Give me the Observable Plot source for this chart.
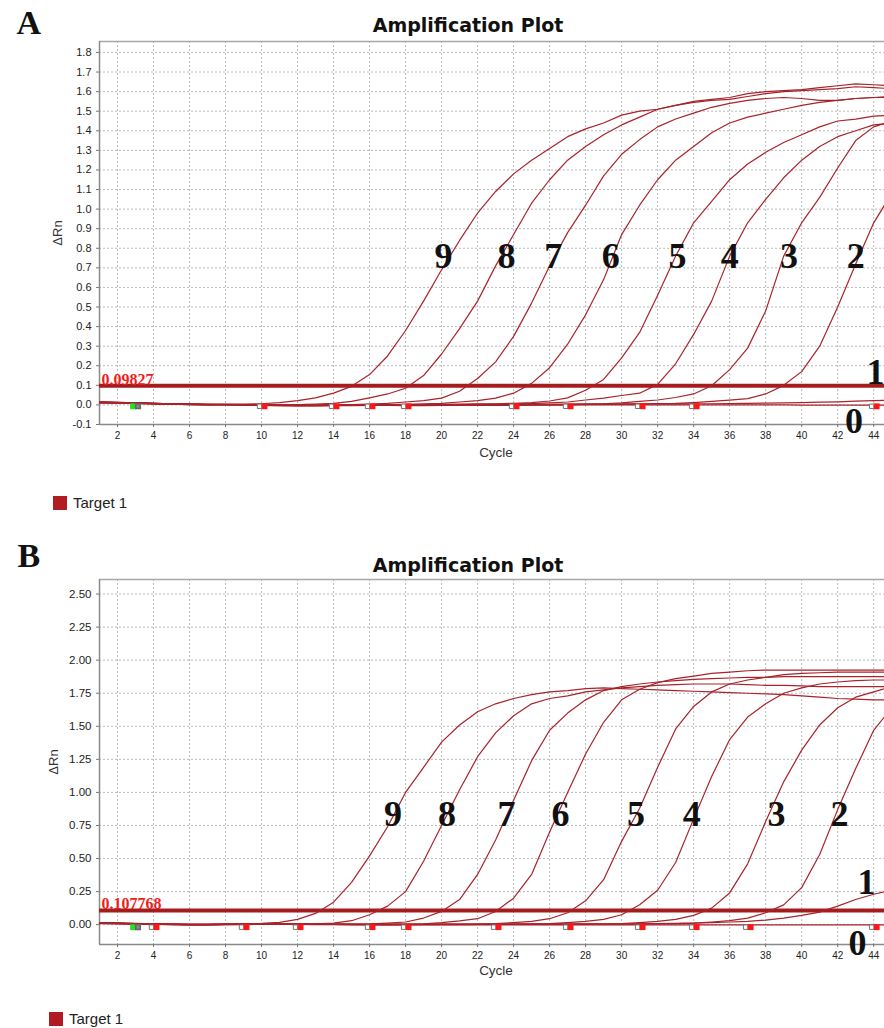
<!DOCTYPE html>
<html><head><meta charset="utf-8">
<script src="https://cdn.jsdelivr.net/npm/d3@7"></script>
<script src="https://cdn.jsdelivr.net/npm/@observablehq/plot@0.6"></script>
<style>
html,body{margin:0;padding:0;background:#fff;overflow:hidden}
#root{position:relative;width:884px;height:1028px;background:#fff}
.legend{position:absolute;display:flex;align-items:center;font-family:'Liberation Sans',Arial,sans-serif;font-size:15px;color:#222;line-height:14px}
.legend .sw{width:14px;height:14px;background:#b01c22;margin-right:6px}
</style></head><body>
<div id="root">
 <div id="panelA" style="position:absolute;left:0;top:0"></div>
 <div class="legend" id="legA" style="left:53px;top:496px"></div>
 <div id="panelB" style="position:absolute;left:0;top:514px"></div>
 <div class="legend" id="legB" style="left:49px;top:1012px"></div>
</div>
<script>
// ---------- shared ----------
const cycles = [1,2,3,4,5,6,7,8,9,10,11,12,13,14,15,16,17,18,19,20,21,22,23,24,25,26,27,28,29,30,31,32,33,34,35,36,37,38,39,40,41,42,43,44,45];
const xDomain = [1, 44.6];
const xTicks = [2,4,6,8,10,12,14,16,18,20,22,24,26,28,30,32,34,36,38,40,42,44];
const seriesNames = ["Target 1"];
const titleText = "Amplification Plot";
const xLabel = "Cycle";
const yLabel = "ΔRn";

// ---------- panel A ----------
const yDomainA = [-0.1, 1.856];
const yTicksA = [-0.1,0,0.1,0.2,0.3,0.4,0.5,0.6,0.7,0.8,0.9,1.0,1.1,1.2,1.3,1.4,1.5,1.6,1.7,1.8];
const thresholdA = 0.09827;
const thresholdTextA = "0.09827";
const a0 = [0.012,0.010,0.008,0.006,0.004, 0.002,0.000,0.001,0.000,-0.003, -0.004,-0.005,-0.005,-0.004,-0.004, -0.003,-0.003,-0.004,-0.004,-0.003, -0.003,-0.002,-0.002,-0.002,-0.001, -0.001,-0.001,0.000,0.000,0.000, 0.000,0.000,0.000,0.000,0.000, 0.000,0.000,0.000,0.000,-0.001, -0.001,-0.001,-0.001,-0.001,-0.001];
const a1 = [0.016,0.013,0.010,0.008,0.006, 0.004,0.003,0.003,0.001,-0.001, -0.002,-0.003,-0.003,-0.003,-0.003, -0.002,-0.002,-0.002,-0.002,-0.001, -0.001,0.000,0.000,0.001,0.001, 0.002,0.002,0.003,0.003,0.004, 0.004,0.005,0.005,0.006,0.006, 0.007,0.008,0.009,0.010,0.012, 0.014,0.016,0.019,0.022,0.025];
const a2 = [0.010,0.009,0.007,0.005,0.004, 0.002,0.001,0.001,0.000,-0.003, -0.004,-0.004,-0.004,-0.003,-0.003, -0.002,-0.002,-0.002,-0.001,-0.001, 0.000,0.000,0.001,0.001,0.002, 0.002,0.003,0.003,0.004,0.005, 0.006,0.007,0.008,0.012,0.018, 0.024,0.032,0.056,0.100,0.170, 0.300,0.500,0.720,0.930,1.080];
const a3 = [0.013,0.011,0.009,0.007,0.005, 0.003,0.002,0.002,0.001,-0.002, -0.003,-0.004,-0.004,-0.003,-0.003, -0.003,-0.002,-0.002,-0.002,-0.001, 0.000,0.000,0.001,0.002,0.002, 0.003,0.004,0.005,0.006,0.010, 0.018,0.025,0.038,0.056,0.098, 0.180,0.290,0.480,0.760,0.930, 1.060,1.210,1.350,1.420,1.450];
const a4 = [0.011,0.010,0.008,0.006,0.004, 0.003,0.002,0.001,0.000,-0.002, -0.003,-0.003,-0.003,-0.003,-0.002, -0.002,-0.001,-0.001,0.000,0.001, 0.002,0.003,0.004,0.005,0.007, 0.010,0.015,0.025,0.035,0.048, 0.060,0.105,0.210,0.360,0.530, 0.760,0.930,1.050,1.160,1.250, 1.320,1.370,1.400,1.430,1.440];
const a5 = [0.014,0.012,0.010,0.007,0.005, 0.003,0.002,0.002,0.001,-0.001, -0.002,-0.003,-0.003,-0.002,-0.002, -0.001,0.000,0.001,0.002,0.003, 0.004,0.005,0.006,0.008,0.012, 0.020,0.036,0.075,0.130,0.240, 0.370,0.560,0.760,0.930,1.040, 1.150,1.230,1.290,1.340,1.380, 1.420,1.450,1.460,1.475,1.480];
const a6 = [0.012,0.011,0.009,0.007,0.005, 0.003,0.002,0.002,0.001,-0.001, -0.002,-0.002,-0.002,-0.001,0.000, 0.001,0.002,0.003,0.005,0.008, 0.015,0.022,0.035,0.060,0.110, 0.190,0.310,0.460,0.640,0.870, 1.020,1.150,1.250,1.320,1.390, 1.440,1.470,1.490,1.510,1.530, 1.545,1.555,1.565,1.570,1.575];
const a7 = [0.015,0.013,0.011,0.008,0.006, 0.004,0.003,0.002,0.001,0.000, -0.001,-0.001,0.000,0.001,0.002, 0.004,0.008,0.015,0.022,0.035, 0.070,0.135,0.220,0.350,0.520, 0.710,0.880,1.020,1.170,1.280, 1.355,1.420,1.460,1.490,1.520, 1.540,1.555,1.565,1.570,1.565, 1.555,1.555,1.565,1.570,1.570];
const a8 = [0.013,0.012,0.010,0.008,0.006, 0.004,0.003,0.003,0.002,0.001, 0.001,0.002,0.004,0.008,0.018, 0.036,0.056,0.085,0.150,0.260, 0.390,0.530,0.710,0.870,1.030, 1.150,1.250,1.320,1.380,1.430, 1.470,1.510,1.530,1.545,1.555, 1.560,1.575,1.590,1.600,1.605, 1.610,1.615,1.625,1.620,1.615];
const a9 = [0.014,0.012,0.010,0.008,0.006, 0.004,0.003,0.003,0.004,0.006, 0.012,0.022,0.036,0.060,0.095, 0.155,0.250,0.380,0.530,0.690, 0.840,0.980,1.090,1.180,1.250, 1.310,1.370,1.410,1.440,1.480, 1.500,1.510,1.530,1.550,1.560, 1.570,1.590,1.600,1.605,1.610, 1.620,1.630,1.640,1.635,1.630];
const curvesA = [a0,a1,a2,a3,a4,a5,a6,a7,a8,a9];
const labelTextA  = ["9","8","7","6","5","4","3","2","1","0"];
const labelCycleA = [20.1,23.6,26.2,29.4,33.1,36.0,39.3,43.0,44.1,42.9];
const labelValueA = [0.757,0.757,0.757,0.757,0.757,0.757,0.757,0.757,0.164,-0.087];
const startMarkA = [3];
const endMarksA = [10,14,16,18,24,27,31,34,44];
const markerLevelA = -0.007;

// ---------- panel B ----------
const yDomainB = [-0.15, 2.61];
const yTicksB = [0,0.25,0.5,0.75,1.0,1.25,1.5,1.75,2.0,2.25,2.5];
const thresholdB = 0.107768;
const thresholdTextB = "0.107768";
const b0 = [0.008,0.006,0.004,0.002,0.000, -0.001,-0.001,0.000,0.001,0.002, 0.002,0.002,0.001,0.001,0.000, 0.000,-0.001,-0.001,-0.001,-0.002, -0.002,-0.002,-0.002,-0.002,-0.002, -0.002,-0.002,-0.002,-0.002,-0.002, -0.002,-0.002,-0.002,-0.002,-0.002, -0.002,-0.002,-0.002,-0.002,-0.002, -0.002,-0.002,-0.002,-0.002,-0.002];
const b1 = [0.012,0.010,0.007,0.004,0.002, 0.001,0.001,0.002,0.003,0.004, 0.004,0.004,0.003,0.003,0.002, 0.002,0.002,0.002,0.002,0.002, 0.002,0.002,0.003,0.003,0.003, 0.004,0.004,0.005,0.005,0.006, 0.007,0.008,0.010,0.012,0.015, 0.020,0.025,0.035,0.050,0.070, 0.095,0.140,0.190,0.230,0.260];
const b2 = [0.010,0.008,0.005,0.003,0.001, 0.000,0.000,0.001,0.002,0.003, 0.003,0.003,0.002,0.002,0.001, 0.001,0.001,0.001,0.001,0.001, 0.001,0.002,0.002,0.002,0.003, 0.003,0.004,0.004,0.005,0.005, 0.006,0.007,0.008,0.012,0.020, 0.030,0.050,0.090,0.150,0.280, 0.530,0.870,1.180,1.470,1.640];
const b3 = [0.013,0.010,0.007,0.004,0.002, 0.001,0.001,0.002,0.003,0.004, 0.004,0.003,0.003,0.002,0.002, 0.001,0.001,0.001,0.002,0.002, 0.002,0.003,0.003,0.004,0.004, 0.005,0.005,0.006,0.007,0.008, 0.015,0.025,0.040,0.070,0.125, 0.240,0.460,0.780,1.080,1.320, 1.510,1.640,1.720,1.760,1.800];
const b4 = [0.011,0.009,0.006,0.004,0.002, 0.001,0.001,0.002,0.003,0.003, 0.003,0.003,0.002,0.002,0.001, 0.001,0.001,0.002,0.002,0.002, 0.003,0.003,0.004,0.005,0.006, 0.008,0.015,0.025,0.040,0.075, 0.150,0.260,0.470,0.800,1.120, 1.400,1.570,1.670,1.750,1.790, 1.820,1.835,1.845,1.850,1.850];
const b5 = [0.014,0.011,0.008,0.005,0.003, 0.002,0.002,0.003,0.004,0.004, 0.004,0.003,0.003,0.002,0.002, 0.002,0.002,0.003,0.003,0.004, 0.004,0.005,0.008,0.015,0.025, 0.045,0.090,0.180,0.340,0.630, 0.880,1.190,1.480,1.650,1.760, 1.820,1.850,1.870,1.890,1.900, 1.905,1.910,1.910,1.910,1.910];
const b6 = [0.012,0.010,0.007,0.004,0.002, 0.001,0.001,0.002,0.003,0.004, 0.004,0.004,0.003,0.003,0.003, 0.003,0.004,0.005,0.006,0.015, 0.028,0.045,0.100,0.200,0.380, 0.700,1.000,1.290,1.530,1.700, 1.780,1.830,1.860,1.880,1.900, 1.910,1.920,1.925,1.925,1.925, 1.925,1.925,1.925,1.925,1.925];
const b7 = [0.015,0.012,0.009,0.006,0.004, 0.003,0.003,0.004,0.005,0.005, 0.005,0.005,0.004,0.004,0.004, 0.006,0.012,0.020,0.050,0.100, 0.190,0.380,0.640,0.940,1.240, 1.470,1.600,1.700,1.770,1.800, 1.820,1.835,1.845,1.855,1.860, 1.865,1.870,1.870,1.875,1.875, 1.875,1.875,1.875,1.875,1.875];
const b8 = [0.013,0.011,0.008,0.005,0.003, 0.002,0.002,0.003,0.004,0.004, 0.004,0.004,0.006,0.012,0.030, 0.075,0.140,0.250,0.480,0.750, 1.020,1.270,1.450,1.580,1.670, 1.710,1.730,1.760,1.775,1.790, 1.800,1.810,1.815,1.820,1.820, 1.820,1.815,1.810,1.810,1.805, 1.800,1.800,1.800,1.800,1.800];
const b9 = [0.012,0.010,0.008,0.006,0.004, 0.003,0.003,0.004,0.006,0.010, 0.018,0.040,0.085,0.170,0.320, 0.520,0.740,1.000,1.190,1.380, 1.510,1.610,1.670,1.710,1.740, 1.760,1.770,1.785,1.790,1.785, 1.780,1.775,1.770,1.765,1.760, 1.755,1.750,1.745,1.740,1.730, 1.720,1.710,1.705,1.700,1.700];
const curvesB = [b0,b1,b2,b3,b4,b5,b6,b7,b8,b9];
const labelTextB  = ["9","8","7","6","5","4","3","2","1","0"];
const labelCycleB = [17.3,20.3,23.6,26.6,30.8,33.9,38.6,42.1,43.6,43.1];
const labelValueB = [0.833,0.833,0.833,0.833,0.833,0.833,0.833,0.833,0.318,-0.144];
const startMarkB = [3];
const endMarksB = [4,9,12,16,18,23,27,31,34,37,44];
const markerLevelB = -0.019;

// ---------- drawing ----------
const sans = "'Liberation Sans', Arial, sans-serif";
const serif = "'Liberation Serif', 'Times New Roman', serif";
const curveColor = "#a8232b";

function tidy(curves) {
  return curves.flatMap((vals, w) => vals.map((v, j) => ({well: w, cycle: cycles[j], value: v})));
}

function panel(c) {
  const idx = c.labelText.map((_, i) => i);
  return Plot.plot({
    width: 884, height: c.height,
    marginTop: c.marginTop, marginBottom: c.marginBottom, marginLeft: 99, marginRight: 0,
    x: {domain: xDomain},
    y: {domain: c.yDomain},
    style: {fontFamily: sans, fontSize: "11px", color: "#222", background: "#fff", overflow: "visible"},
    marks: [
      Plot.gridX({ticks: xTicks, stroke: "#b9b9b9", strokeOpacity: 1, strokeDasharray: "2,2"}),
      Plot.gridY({ticks: c.yTicks, stroke: "#b9b9b9", strokeOpacity: 1, strokeDasharray: "2,2"}),
      Plot.ruleY([c.yDomain[1]], {stroke: "#a8a8a8", strokeWidth: 1.5}),
      Plot.ruleY([c.yDomain[0]], {stroke: "#8a8a8a", strokeWidth: 1.5}),
      Plot.ruleX([xDomain[0]], {stroke: "#8a8a8a", strokeWidth: 1.5}),
      Plot.axisX({ticks: xTicks, tickSize: 3, tickPadding: 4, fontSize: 10, label: null, stroke: "#777", tickFormat: d => String(d)}),
      Plot.axisY({ticks: c.yTicks, tickSize: 3, tickPadding: 5, fontSize: c.yFont, label: null, stroke: "#777", tickFormat: c.yFmt}),
      Plot.ruleY([c.threshold], {stroke: "#a51c1e", strokeWidth: 4}),
      Plot.line(tidy(c.curves), {x: "cycle", y: "value", z: "well", stroke: curveColor, strokeWidth: 1.2, clip: true}),
      Plot.dot(c.startMark, {x: d => d, y: () => c.markerLevel, symbol: "square", r: 3.3, fill: "#22e022", stroke: "none", dx: -2.5}),
      Plot.dot(c.startMark, {x: d => d, y: () => c.markerLevel, symbol: "square", r: 2.6, fill: "#888", stroke: "#666", dx: 2.5}),
      Plot.dot(c.endMarks, {x: d => d, y: () => c.markerLevel, symbol: "square", r: 2.5, fill: "#fff", stroke: "#777", strokeWidth: 1, dx: -2}),
      Plot.dot(c.endMarks, {x: d => d, y: () => c.markerLevel, symbol: "square", r: 3.3, fill: "#ff1616", stroke: "none", dx: 3}),
      Plot.text([c.threshold], {y: d => d, frameAnchor: "left", text: () => c.thresholdText, textAnchor: "start", lineAnchor: "bottom", dx: 2, dy: -1, fill: "#ee1c1c", fontWeight: "bold", fontFamily: serif, fontSize: 16}),
      Plot.text(idx, {x: i => c.labelCycle[i], y: i => c.labelValue[i], text: i => c.labelText[i], fontSize: 36, fontWeight: "bold", fontFamily: serif, fill: "#111"}),
      Plot.text([titleText], {frameAnchor: "top", textAnchor: "middle", lineAnchor: "middle", dx: -24, dy: c.titleDy, fontSize: 19, fontWeight: "bold", fontFamily: "'DejaVu Sans', Verdana, sans-serif", fill: "#111"}),
      Plot.text([c.letter], {frameAnchor: "top-left", textAnchor: "start", lineAnchor: "middle", dx: c.letterDx, dy: c.letterDy, fontSize: 34, fontWeight: "bold", fontFamily: serif, fill: "#111"}),
      Plot.text([yLabel], {frameAnchor: "left", textAnchor: "middle", lineAnchor: "middle", rotate: -90, dx: c.yLabDx, fontSize: 13, fill: "#333"}),
      Plot.text([xLabel], {frameAnchor: "bottom", textAnchor: "middle", lineAnchor: "middle", dx: 4, dy: c.xLabDy, fontSize: 13.5, fill: "#333"})
    ]
  });
}

document.getElementById("panelA").appendChild(panel({
  height: 470, marginTop: 41, marginBottom: 46,
  yDomain: yDomainA, yTicks: yTicksA, yFont: 11, yFmt: d => d.toFixed(1),
  threshold: thresholdA, thresholdText: thresholdTextA, curves: curvesA,
  labelText: labelTextA, labelCycle: labelCycleA, labelValue: labelValueA,
  startMark: startMarkA, endMarks: endMarksA, markerLevel: markerLevelA,
  letter: "A", titleDy: -16, letterDx: -83, letterDy: -18, yLabDx: -42, xLabDy: 28
}));
document.getElementById("panelB").appendChild(panel({
  height: 470, marginTop: 65, marginBottom: 40,
  yDomain: yDomainB, yTicks: yTicksB, yFont: 11.5, yFmt: d => d.toFixed(2),
  threshold: thresholdB, thresholdText: thresholdTextB, curves: curvesB,
  labelText: labelTextB, labelCycle: labelCycleB, labelValue: labelValueB,
  startMark: startMarkB, endMarks: endMarksB, markerLevel: markerLevelB,
  letter: "B", titleDy: -14, letterDx: -82, letterDy: -23, yLabDx: -46, xLabDy: 26
}));

for (const id of ["legA", "legB"]) {
  const el = document.getElementById(id);
  seriesNames.forEach(name => {
    const sw = document.createElement("div"); sw.className = "sw";
    const tx = document.createElement("span"); tx.textContent = name;
    el.appendChild(sw); el.appendChild(tx);
  });
}
</script>
</body></html>
